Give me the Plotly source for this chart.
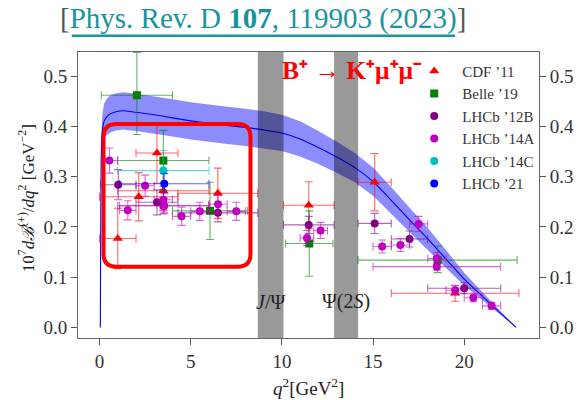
import plotly.graph_objects as go

# ---------------- theory prediction (central value and band) ----------------
th_q2 = [0.045, 0.06, 0.08, 0.1, 0.15, 0.25, 0.4, 0.6, 0.9, 1.3, 2, 3, 4, 5, 6, 7, 8, 9,
         10, 11, 12, 13, 14, 15, 16, 17, 18, 19, 20, 21, 22, 22.85]
th_mid = [0.0, 0.15, 0.29, 0.35, 0.39, 0.41, 0.419, 0.425, 0.429, 0.431, 0.428, 0.423,
          0.417, 0.411, 0.406, 0.402, 0.398, 0.393, 0.387, 0.375, 0.358, 0.339, 0.318,
          0.290, 0.253, 0.214, 0.176, 0.136, 0.096, 0.062, 0.028, 0.0]
th_hi = [0.0, 0.162, 0.312, 0.377, 0.422, 0.445, 0.455, 0.462, 0.466, 0.468, 0.465, 0.460,
         0.454, 0.448, 0.443, 0.439, 0.435, 0.430, 0.423, 0.410, 0.391, 0.370, 0.347,
         0.318, 0.279, 0.238, 0.198, 0.154, 0.109, 0.070, 0.032, 0.0]
th_lo = [0.0, 0.138, 0.268, 0.323, 0.358, 0.375, 0.383, 0.388, 0.392, 0.394, 0.391, 0.386,
         0.380, 0.374, 0.369, 0.365, 0.361, 0.356, 0.351, 0.340, 0.325, 0.308, 0.289,
         0.262, 0.227, 0.190, 0.154, 0.118, 0.083, 0.054, 0.024, 0.0]

# ---------------- measurements: bin edges, values, errors ----------------
cdf_lo = [0, 2, 4.3, 10.09, 14.18, 16, 0, 1]
cdf_hi = [2, 4.3, 8.68, 12.86, 16, 23, 4.3, 6]
cdf_val = [0.177, 0.347, 0.267, 0.243, 0.289, 0.068, 0.260, 0.272]
cdf_err = [0.060, 0.060, 0.050, 0.047, 0.057, 0.016, 0.048, 0.040]

belle_lo = [0.1, 1, 4, 10.2, 14.18]
belle_hi = [4, 6, 8.12, 12.8, 22.9]
belle_val = [0.462, 0.332, 0.232, 0.167, 0.134]
belle_err_up = [0.085, 0.060, 0.057, 0.065, 0.028]
belle_err_dn = [0.078, 0.060, 0.057, 0.065, 0.025]

l12_lo = [0.05, 2, 4.3, 10.09, 14.18, 16, 18, 1]
l12_hi = [2, 4.3, 8.68, 12.86, 16, 18, 22, 6]
l12_val = [0.284, 0.249, 0.228, 0.204, 0.207, 0.176, 0.078, 0.242]
l12_err = [0.030, 0.025, 0.018, 0.017, 0.020, 0.016, 0.011, 0.016]

l14a_lo = [0.1, 1.1, 2, 3, 4, 5, 6, 7, 11, 11.75, 15, 16, 17, 18, 19, 20, 21, 1.1, 15]
l14a_hi = [0.98, 2, 3, 4, 5, 6, 7, 8, 11.75, 12.5, 16, 17, 18, 19, 20, 21, 22, 6, 22]
l14a_val = [0.332, 0.233, 0.282, 0.254, 0.221, 0.231, 0.245, 0.231, 0.178, 0.193,
            0.161, 0.164, 0.206, 0.137, 0.074, 0.059, 0.043, 0.242, 0.121]
l14a_err = [0.025, 0.019, 0.021, 0.020, 0.018, 0.018, 0.018, 0.018, 0.015, 0.016,
            0.013, 0.013, 0.015, 0.012, 0.009, 0.008, 0.007, 0.014, 0.007]

l14c_lo = [1.0]
l14c_hi = [6.0]
l14c_val = [0.312]
l14c_err_up = [0.040]
l14c_err_dn = [0.031]

l21_lo = [1.1]
l21_hi = [6.0]
l21_val = [0.286]
l21_err = [0.020]

SERIF = "Liberation Serif"


def series(name, lo, hi, val, err_up, err_dn, color, bar_color, symbol, size):
    x = [(a + b) / 2 for a, b in zip(lo, hi)]
    return go.Scatter(
        x=x, y=val, mode="markers", name=name,
        marker=dict(color=color, symbol=symbol, size=size, line=dict(width=0)),
        error_x=dict(type="data", symmetric=False,
                     array=[b - c for b, c in zip(hi, x)],
                     arrayminus=[c - a for a, c in zip(lo, x)],
                     color=bar_color, thickness=1.1, width=4),
        error_y=dict(type="data", symmetric=False, array=err_up, arrayminus=err_dn,
                     color=bar_color, thickness=1.1, width=4),
        hoverinfo="skip",
    )


fig = go.Figure()

# theory band
fig.add_trace(go.Scatter(x=th_q2, y=th_lo, mode="lines", line=dict(width=0),
                         showlegend=False, hoverinfo="skip"))
fig.add_trace(go.Scatter(x=th_q2, y=th_hi, mode="lines", line=dict(width=0),
                         fill="tonexty", fillcolor="rgba(0,0,255,0.45)",
                         showlegend=False, hoverinfo="skip"))
fig.add_trace(go.Scatter(x=th_q2, y=th_mid, mode="lines",
                         line=dict(color="#0000ff", width=1.1, shape="spline", smoothing=0.6),
                         showlegend=False, hoverinfo="skip"))

fig.add_trace(series("CDF ’11", cdf_lo, cdf_hi, cdf_val, cdf_err, cdf_err,
                     "#ff0000", "rgba(255,0,0,0.6)", "triangle-up", 9))
fig.add_trace(series("Belle ’19", belle_lo, belle_hi, belle_val, belle_err_up, belle_err_dn,
                     "#008000", "rgba(0,128,0,0.6)", "square", 8))
fig.add_trace(series("LHCb ’12B", l12_lo, l12_hi, l12_val, l12_err, l12_err,
                     "#800080", "rgba(128,0,128,0.6)", "circle", 8))
fig.add_trace(series("LHCb ’14A", l14a_lo, l14a_hi, l14a_val, l14a_err, l14a_err,
                     "#bf00bf", "rgba(191,0,191,0.6)", "circle", 8))
fig.add_trace(series("LHCb ’14C", l14c_lo, l14c_hi, l14c_val, l14c_err_up, l14c_err_dn,
                     "#00bfbf", "rgba(0,191,191,0.6)", "circle", 8))
fig.add_trace(series("LHCb ’21", l21_lo, l21_hi, l21_val, l21_err, l21_err,
                     "#0000ff", "rgba(0,0,255,0.6)", "circle", 8))

# helper trace so the right-hand axis is drawn
fig.add_trace(go.Scatter(x=[0], y=[0], yaxis="y2", mode="markers",
                         marker=dict(opacity=0), showlegend=False, hoverinfo="skip"))

# charmonium veto regions
vetoes = [(8.68, 10.09), (12.86, 14.18)]
shapes = []
for a, b in vetoes:
    shapes.append(dict(type="rect", xref="x", yref="paper", x0=a, x1=b, y0=0, y1=1,
                       fillcolor="rgba(0,0,0,0.4)", line=dict(width=0), layer="above"))

# rounded highlight box around the low-q2 region
bx0, bx1, by0, by1 = 0.22, 8.28, 0.1207, 0.405
rx, ry = 0.70, 0.026
path = (f"M {bx0+rx},{by1} L {bx1-rx},{by1} Q {bx1},{by1} {bx1},{by1-ry} "
        f"L {bx1},{by0+ry} Q {bx1},{by0} {bx1-rx},{by0} "
        f"L {bx0+rx},{by0} Q {bx0},{by0} {bx0},{by0+ry} "
        f"L {bx0},{by1-ry} Q {bx0},{by1} {bx0+rx},{by1} Z")
shapes.append(dict(type="path", path=path, xref="x", yref="y",
                   line=dict(color="#ff0000", width=4), layer="above"))

# underline of the citation
shapes.append(dict(type="line", xref="paper", yref="paper", x0=-0.0135, x1=0.818,
                   y0=1.057, y1=1.057, line=dict(color="#17949f", width=2.5)))

annotations = [
    dict(text='<span style="color:#555">[</span>Phys. Rev. D <b>107</b>, 119903 (2023)'
              '<span style="color:#555">]</span>',
         xref="paper", yref="paper", x=0.402, y=1.116, xanchor="center", yanchor="middle",
         showarrow=False, font=dict(family=SERIF, size=29, color="#17949f")),
    dict(text="<b>B⁺ → K⁺μ⁺μ⁻</b>",
         xref="paper", yref="paper", x=0.594, y=0.935, xanchor="center", yanchor="middle",
         showarrow=False, font=dict(family=SERIF, size=25.5, color="#ff0000")),
    dict(text="<i>J</i>/Ψ", xref="x", yref="y", x=9.35, y=0.051,
         xanchor="center", yanchor="middle", showarrow=False,
         font=dict(family=SERIF, size=20, color="#222")),
    dict(text="Ψ(2<i>S</i>)", xref="x", yref="y", x=13.5, y=0.051,
         xanchor="center", yanchor="middle", showarrow=False,
         font=dict(family=SERIF, size=20, color="#222")),
    dict(text="10<sup>7</sup><i>dℬ</i><sup>(+)</sup>/<i>dq</i><sup>2</sup> [GeV<sup>−2</sup>]",
         xref="paper", yref="paper", x=-0.112, y=0.49, textangle=-90,
         xanchor="center", yanchor="middle", showarrow=False,
         font=dict(family=SERIF, size=17, color="#222")),
    dict(text="<i>q</i><sup>2</sup>[GeV<sup>2</sup>]",
         xref="paper", yref="paper", x=0.5, y=-0.17, xanchor="center", yanchor="middle",
         showarrow=False, font=dict(family=SERIF, size=19, color="#222")),
]

yticks = [0.0, 0.1, 0.2, 0.3, 0.4, 0.5]
xticks = [0, 5, 10, 15, 20]
axis_font = dict(family=SERIF, size=19, color="#333")

fig.update_layout(
    width=586, height=400,
    margin=dict(l=78, r=41, t=52, b=62),
    paper_bgcolor="white", plot_bgcolor="white",
    shapes=shapes, annotations=annotations,
    xaxis=dict(range=[-1.18, 24.1], tickvals=xticks, ticks="outside", ticklen=6,
               tickcolor="#555", showline=True, linecolor="#666", linewidth=1,
               mirror=True, showgrid=False, zeroline=False, tickfont=axis_font),
    yaxis=dict(range=[-0.021, 0.548], tickvals=yticks, tickformat=".1f", ticks="outside",
               ticklen=6, tickcolor="#555", showline=True, linecolor="#666", linewidth=1,
               showgrid=False, zeroline=False, tickfont=axis_font),
    yaxis2=dict(range=[-0.021, 0.548], tickvals=yticks, tickformat=".1f", ticks="outside",
                ticklen=6, tickcolor="#555", showline=True, linecolor="#666", linewidth=1,
                overlaying="y", side="right", showgrid=False, zeroline=False,
                tickfont=axis_font),
    legend=dict(x=0.712, y=0.99, xanchor="left", yanchor="top", bgcolor="rgba(0,0,0,0)",
                traceorder="normal", itemwidth=46,
                font=dict(family=SERIF, size=15, color="#333")),
    showlegend=True,
)

fig.write_html("out.html")
